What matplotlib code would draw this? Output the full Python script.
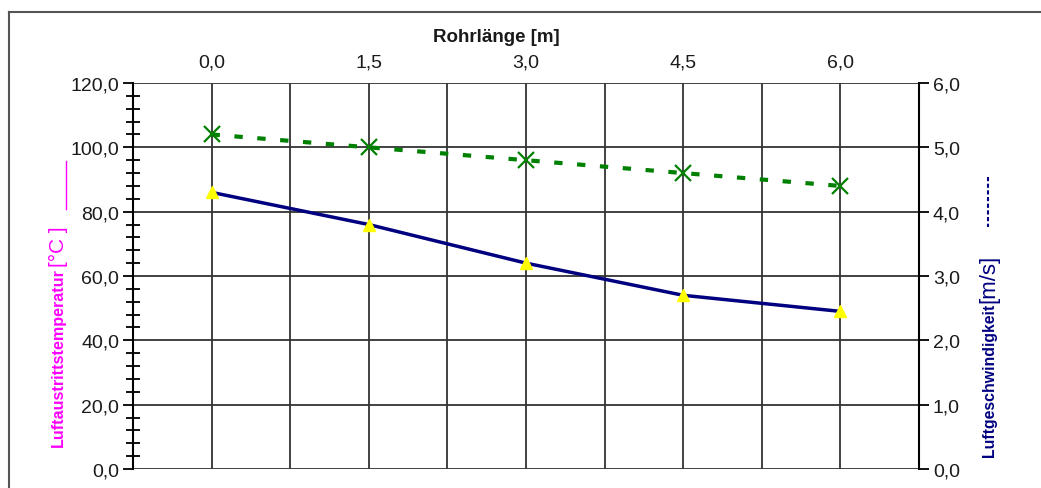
import matplotlib
matplotlib.use("Agg")
import matplotlib.pyplot as plt
from matplotlib.lines import Line2D
from matplotlib.ticker import MultipleLocator, FuncFormatter

plt.rcParams['font.family'] = ['Liberation Sans', 'DejaVu Sans']

# Rohrlänge [m]
rohrlaenge = [0.0, 1.5, 3.0, 4.5, 6.0]
# Luftaustrittstemperatur [°C] (left axis)
temperatur = [86.0, 76.0, 64.0, 54.0, 49.0]
# Luftgeschwindigkeit [m/s] (right axis)
geschwindigkeit = [5.2, 5.0, 4.8, 4.6, 4.4]

W, H = 1041, 489
fig = plt.figure(figsize=(W / 100, H / 100), dpi=100)
ax = fig.add_axes([133 / W, 1 - 470 / H, (919 - 133) / W, (470 - 84) / H])
ax2 = ax.twinx()

comma = FuncFormatter(lambda v, p: f"{v:.1f}".replace('.', ','))
tick_col = '#1a1a1a'
grid_col = '#333333'

# left axis
ax.set_xlim(-0.75, 6.75)
ax.set_ylim(0, 120)
ax.yaxis.set_major_locator(MultipleLocator(20))
ax.yaxis.set_minor_locator(MultipleLocator(4))
ax.yaxis.set_major_formatter(comma)
ax.tick_params(axis='y', which='major', direction='out', length=7, width=1.3,
               color='black', labelsize=14, labelcolor=tick_col, pad=3)
ax.tick_params(axis='y', which='minor', direction='inout', length=10, width=1.3, color='black')

# x axis: labels on top, grid every 0.75
ax.xaxis.set_major_locator(MultipleLocator(0.75))
ax.xaxis.set_major_formatter(FuncFormatter(
    lambda v, p: (f"{v:.1f}".replace('.', ',') if abs(v / 1.5 - round(v / 1.5)) < 1e-6 and 0 <= v <= 6 else "")))
ax.xaxis.tick_top()
ax.tick_params(axis='x', which='major', length=0, labelsize=14, labelcolor=tick_col, pad=9)
ax.grid(True, which='major', color=grid_col, linewidth=1.3)
ax.set_axisbelow(True)

for s in ['top', 'bottom']:
    ax.spines[s].set_visible(False)
ax.spines['left'].set_linewidth(1.5)
ax.spines['left'].set_color('black')
ax.spines['right'].set_visible(False)

# right axis
ax2.set_ylim(0, 6)
ax2.yaxis.set_major_locator(MultipleLocator(1))
ax2.yaxis.set_major_formatter(comma)
ax2.tick_params(axis='y', direction='out', length=7, width=1.3, color='black',
                labelsize=14, labelcolor=tick_col, pad=3)
for s in ['top', 'bottom', 'left']:
    ax2.spines[s].set_visible(False)
ax2.spines['right'].set_linewidth(1.5)
ax2.spines['right'].set_color('black')

# data
ax.plot(rohrlaenge, temperatur, color='#000080', linewidth=2.5, zorder=3)
ax.plot(rohrlaenge, temperatur, linestyle='none', marker='^', markersize=8,
        color='#ffff00', markeredgecolor='#ffff00', zorder=4)
ax2.plot(rohrlaenge, geschwindigkeit, color='#008000', linewidth=3,
         linestyle=(0, (2, 3.5)), zorder=3)
ax2.plot(rohrlaenge, geschwindigkeit, linestyle='none', marker='x', markersize=11,
         markeredgewidth=1.6, color='#008000', zorder=4)

# axis titles
fig.text(496 / W, 1 - 38 / H, 'Rohrlänge [m]', ha='center', va='center',
         fontsize=13.5, fontweight='bold', color=tick_col)

renderer = fig.canvas.get_renderer()


def rotated_label(x, y_bottom, main, unit, color, main_size, unit_size):
    # bold name followed directly by the unit, both rotated
    t = fig.text(x / W, 1 - y_bottom / H, main, rotation=90, ha='center', va='bottom',
                 fontsize=main_size, fontweight='bold', color=color)
    top = t.get_window_extent(renderer).y1
    fig.text(x / W, (top + 1) / H, unit, rotation=90, ha='center', va='bottom',
             fontsize=unit_size, color=color)


rotated_label(58, 447, 'Luftaustrittstemperatur', '[°C ]', '#ff00ff', 11.6, 15)
fig.add_artist(Line2D([66 / W, 66 / W], [1 - 162 / H, 1 - 210 / H], color='#ff00ff',
                      linewidth=1, transform=fig.transFigure))

rotated_label(989, 457, 'Luftgeschwindigkeit', '[m/s]', '#000080', 11.4, 16)
fig.add_artist(Line2D([988 / W, 988 / W], [1 - 178 / H, 1 - 228 / H], color='#000080',
                      linewidth=1.5, linestyle=(0, (2, 1.2)), transform=fig.transFigure))

# outer frame (top and left edges visible)
frame_col = '#555555'
fig.add_artist(Line2D([9 / W, 1.0], [1 - 13 / H, 1 - 13 / H], color=frame_col,
                      linewidth=1.5, transform=fig.transFigure))
fig.add_artist(Line2D([9 / W, 9 / W], [0, 1 - 13 / H], color=frame_col,
                      linewidth=1.5, transform=fig.transFigure))

fig.savefig('out.png', dpi=100)
